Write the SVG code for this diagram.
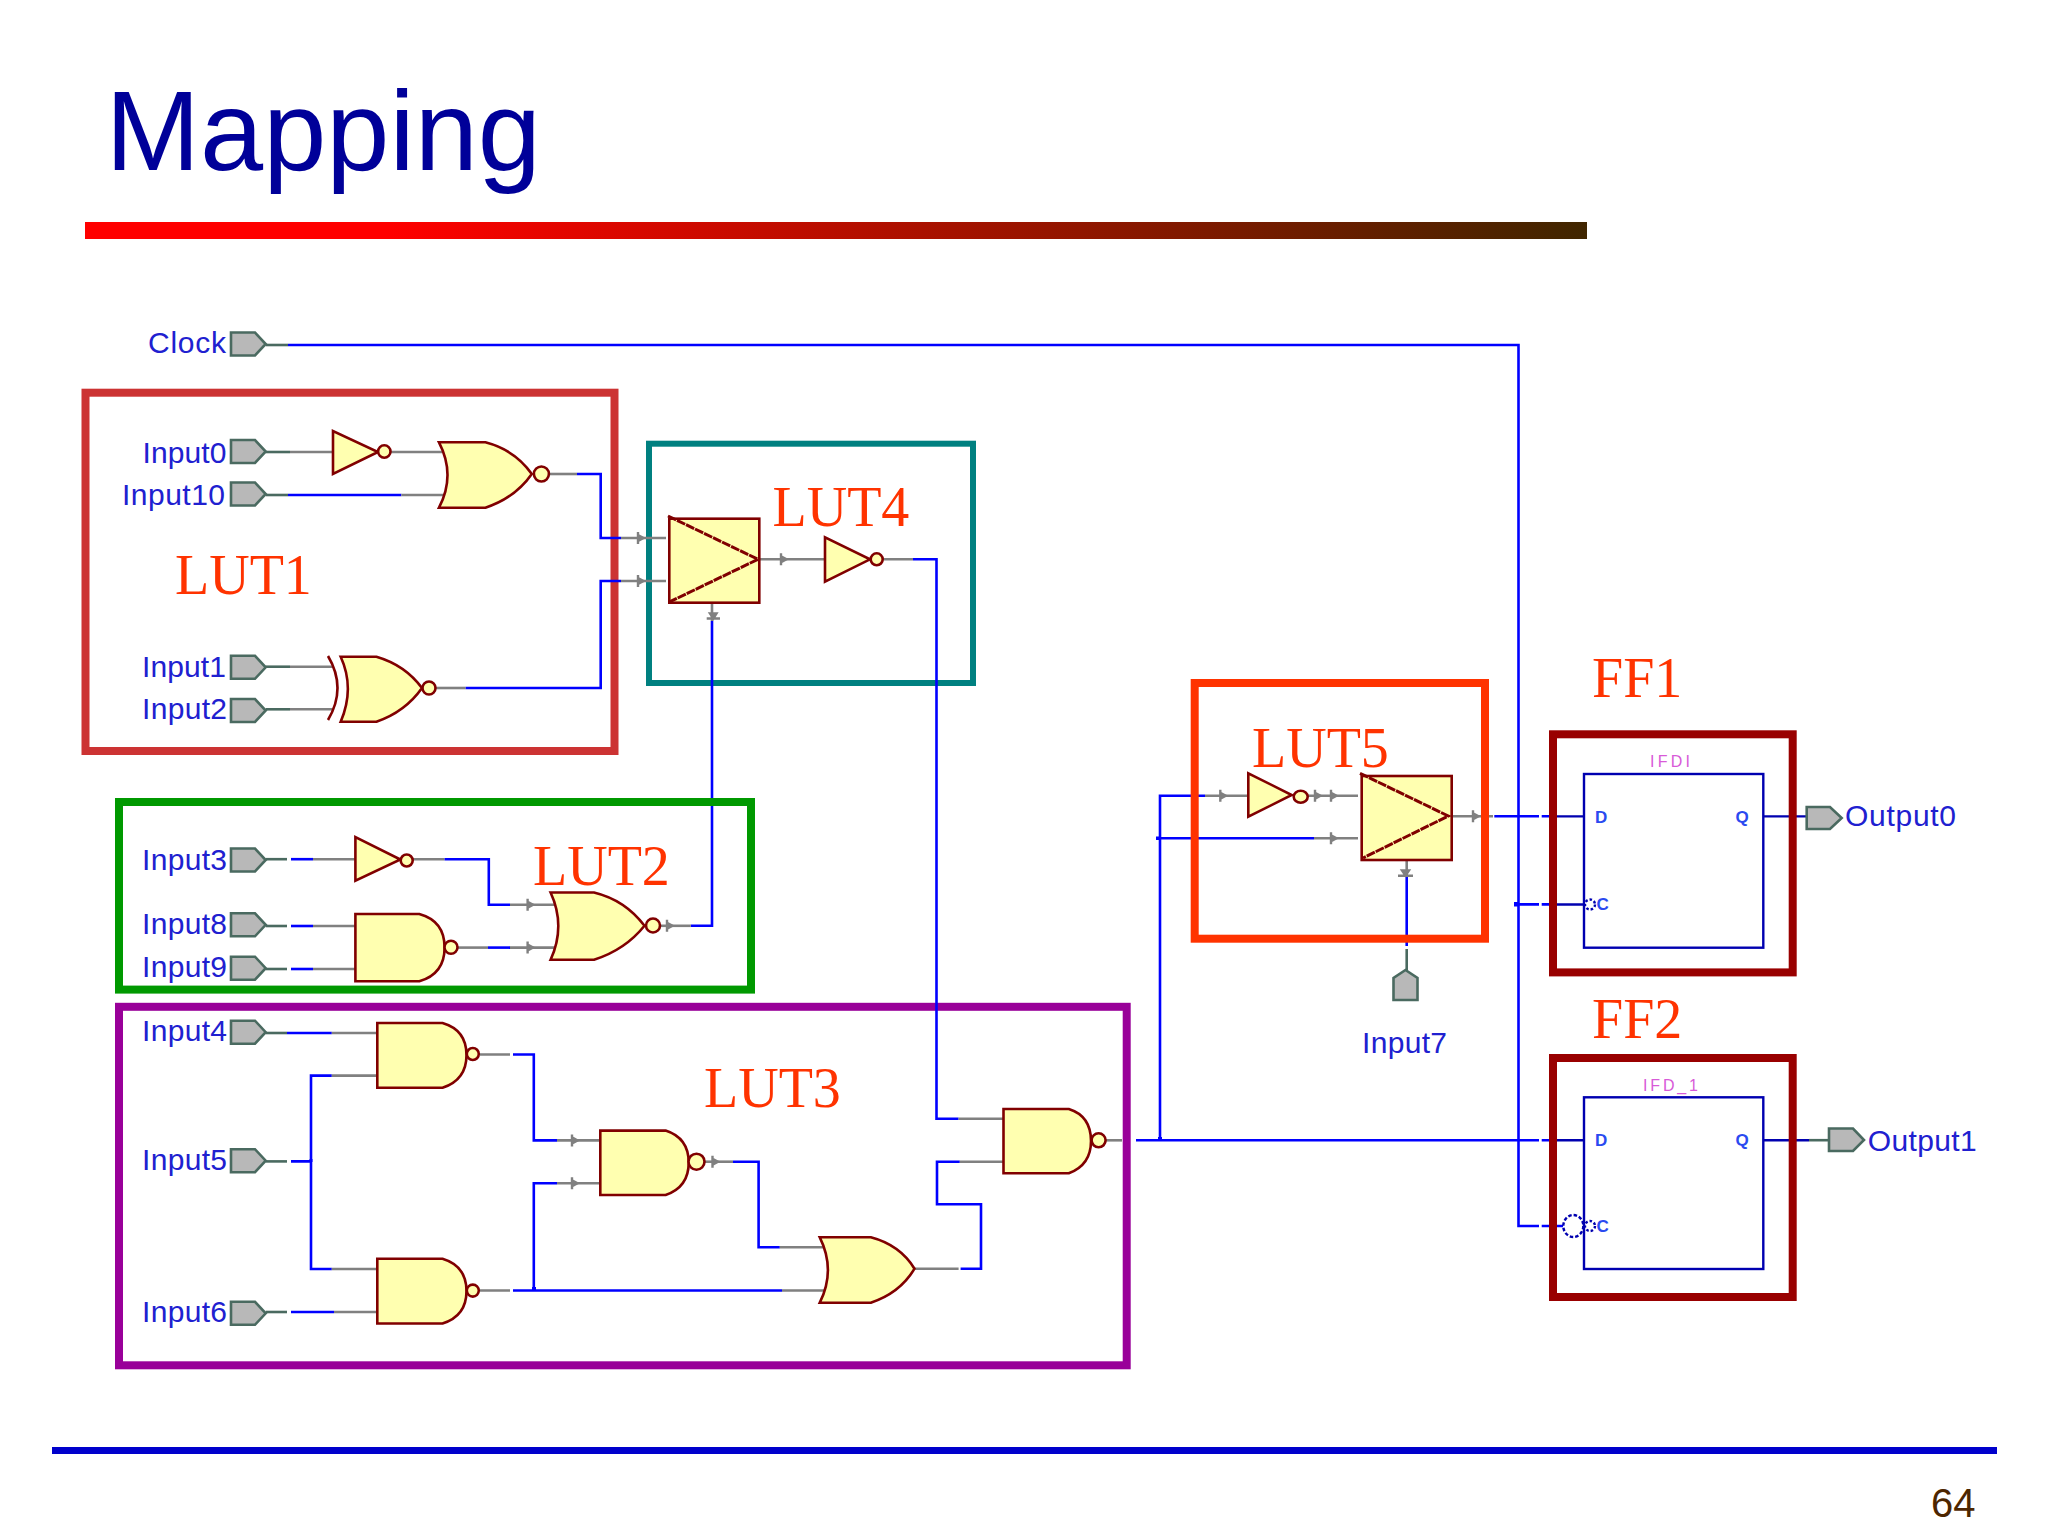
<svg xmlns="http://www.w3.org/2000/svg" xmlns:xlink="http://www.w3.org/1999/xlink" width="2048" height="1536" viewBox="0 0 2048 1536">
<defs>
<linearGradient id="barGrad" x1="0" x2="1" y1="0" y2="0"><stop offset="0" stop-color="#ff0000"/><stop offset="0.2" stop-color="#ff0000"/><stop offset="1" stop-color="#402600"/></linearGradient>
<path id="port" d="M231 -11.5H255L265.7 0L255 11.5H231Z" class="port"/>
<path id="tick" d="M-2 -6V6M-2 -3L3.5 0L-2 3Z" class="tick"/>
<style>
.b{fill:none;stroke:#0000ff;stroke-width:2.6}
.g{fill:none;stroke:#808080;stroke-width:2.6}
.d{fill:none;stroke:#4a6a60;stroke-width:2.6}
.f{fill:none;stroke:#0000b0;stroke-width:2.4}
.gate{fill:#ffffb0;stroke:#800000;stroke-width:2.6}
.gx{fill:none;stroke:#800000;stroke-width:2.6}
.tri{fill:none;stroke:#800000;stroke-width:3;stroke-dasharray:9 1}
.port{fill:#b8b8b8;stroke:#4a6a60;stroke-width:2.6}
.tick{fill:#808080;stroke:#808080;stroke-width:2.4}
.box{fill:none;stroke-width:8}
.lab{font-family:"Liberation Sans",Arial,sans-serif;font-size:30px;fill:#2020d0}
.lut{font-family:"Liberation Serif","Times New Roman",serif;font-size:56px;fill:#ff3300}
.pin{font-family:"Liberation Sans",Arial,sans-serif;font-size:17px;font-weight:bold;fill:#2a4af0}
.inst{font-family:"Liberation Sans",Arial,sans-serif;font-size:16px;fill:#d85ad8}
</style>
</defs>
<rect width="2048" height="1536" fill="#ffffff"/>

<g id="slide">
<text x="105.5" y="170" font-family="'Liberation Sans',Arial,sans-serif" font-size="113.5" fill="#000099">Mapping</text>
<rect x="85" y="222" width="1502" height="17" fill="url(#barGrad)"/>
<rect x="52" y="1447" width="1945" height="7" fill="#0000cc"/>
<text x="1931" y="1517" font-family="'Liberation Sans',Arial,sans-serif" font-size="40" fill="#4d2600">64</text>
</g>

<g id="regions-under">
<rect id="LUT1-box" class="box" x="85.5" y="392.7" width="529" height="358.3" stroke="#cc3333"/>
<rect id="LUT4-box" x="649" y="443.7" width="324" height="239.3" fill="none" stroke="#008080" stroke-width="6"/>
<rect id="LUT3-box" class="box" x="119" y="1006.8" width="1007.7" height="358.5" stroke="#990099"/>
</g>

<g id="connectors">
<path class="d" d="M265.7 345H288"/><path class="b" d="M288 345H1518.5V1226H1539M1541.7 1226H1563"/>
<path class="d" d="M265.7 452H290"/><path class="g" d="M290 452H333M390.7 452H442"/>
<path class="d" d="M265.7 495H288"/><path class="b" d="M288 495H401.4"/><path class="g" d="M401.4 495H444"/>
<path class="d" d="M265.7 666.7H290"/><path class="g" d="M290 666.7H332"/>
<path class="d" d="M265.7 709.3H290"/><path class="g" d="M290 709.3H332"/>
<path class="g" d="M549 474H577"/><path class="b" d="M577 474H600.7V538H621"/><path class="g" d="M621 538H666"/>
<path class="g" d="M435.5 688H465.7"/><path class="b" d="M465.7 688H600.7V581H621"/><path class="g" d="M621 581H666"/>
<path class="g" d="M759.3 559.3H825M882.7 559.3H913"/>
<path class="b" d="M913 559.3H936.5V1118.7H958.6"/><path class="g" d="M958.6 1118.7H1003.5"/>
<path class="g" d="M712 602.7V621"/>
<path class="b" d="M712 621V925.8H690.8"/><path class="g" d="M690.8 925.8H660"/>
<path class="d" d="M265.7 859.2H287"/><path class="b" d="M291 859.2H313"/><path class="g" d="M313 859.2H355.4M413 859.2H444.6"/>
<path class="b" d="M444.6 859.2H488.8V904.7H510"/><path class="g" d="M510 904.7H556"/>
<path class="d" d="M265.7 926H287"/><path class="b" d="M291 926H313"/><path class="g" d="M313 926H355.4"/>
<path class="d" d="M265.7 969H287"/><path class="b" d="M291 969H313"/><path class="g" d="M313 969H355.4"/>
<path class="g" d="M457.5 947.6H488"/><path class="b" d="M488 947.6H510"/><path class="g" d="M510 947.6H554"/>
<path class="d" d="M265.7 1033H287"/><path class="b" d="M287 1033H331.8"/><path class="g" d="M331.8 1033H377.3"/>
<path class="d" d="M265.7 1161.4H287"/><path class="b" d="M291 1161.4H311M331.8 1075.6H311V1269H331.8"/><path class="g" d="M331.8 1075.6H377.3M331.8 1269H377.3"/>
<path class="d" d="M265.7 1312H287"/><path class="b" d="M291 1312H334"/><path class="g" d="M334 1312H377.3"/>
<path class="g" d="M480 1054.5H510M480 1290.5H510"/>
<path class="b" d="M513 1054.5H533.8V1140.4H557"/><path class="g" d="M557 1140.4H600.3"/>
<path class="b" d="M513 1290.5H782M533.8 1290.5V1183.3H557"/><path class="g" d="M557 1183.3H600.3M782 1290.5H824"/>
<path class="g" d="M705 1161.7H733"/><path class="b" d="M733 1161.7H758.6V1247.3H779.8"/><path class="g" d="M779.8 1247.3H824"/>
<path class="g" d="M914.5 1268.7H958.6"/><path class="b" d="M960.6 1268.7H981V1204.3H937V1161.7H959.8"/><path class="g" d="M959.8 1161.7H1003.5"/>
<path class="g" d="M1106 1140.3H1122"/><path class="b" d="M1136 1140.3H1539M1541.7 1140.3H1550"/>
<path class="b" d="M1157 838.3H1314M1205 795.7H1160V1140.3"/>
<path class="g" d="M1205 795.7H1248.3M1308 795.7H1358M1314 838.3H1358"/>
<path class="g" d="M1451.7 816.3H1493"/><path class="b" d="M1494.3 816.3H1539M1541.7 816.3H1550"/>
<path class="b" d="M1515 904.4H1539M1541.7 904.4H1550"/>
<path class="g" d="M1406.7 860V877"/><path class="b" d="M1406.7 877V946"/><path class="d" d="M1406.7 949V970"/>
<path class="f" d="M1550 816.4H1584M1550 904.5H1584M1550 1140.2H1584M1763.3 816.4H1806.7M1763.3 1140.2H1809"/>
<path class="d" d="M1809 1140.2H1829"/>
<rect x="309.5" y="1159" width="3" height="3" fill="#0000ff"/>
<rect x="532" y="1287" width="4" height="4" fill="#0000ff"/>
<rect x="1158" y="1137" width="4" height="4" fill="#0000ff"/>
<rect x="1156" y="836.5" width="3.5" height="3.5" fill="#0000ff"/>
<rect x="1514" y="902" width="4.5" height="4.5" fill="#0000ff"/>
<use href="#tick" x="640" y="538"/><use href="#tick" x="640" y="581"/>
<use href="#tick" x="783" y="559.3"/>
<path class="tick" d="M706.7 618.5H720M713.4 618.5L710 613.5H716.5Z"/>
<use href="#tick" x="529.6" y="904.7"/><use href="#tick" x="529.6" y="947.6"/>
<use href="#tick" x="669" y="925.8"/>
<use href="#tick" x="574" y="1140.4"/><use href="#tick" x="574" y="1183.3"/>
<use href="#tick" x="714.5" y="1161.7"/>
<use href="#tick" x="1222.3" y="795.7"/><use href="#tick" x="1317" y="795.7"/><use href="#tick" x="1333" y="795.7"/><use href="#tick" x="1333" y="838.3"/>
<use href="#tick" x="1475" y="816.3"/>
<path class="tick" d="M1398 875.7H1413M1405.5 875.7L1402 870.5H1409Z"/>
</g>

<g id="Clock"><use href="#port" y="344"/><text class="lab" x="148" y="353" textLength="78" lengthAdjust="spacing">Clock</text></g>
<g id="Input0"><use href="#port" y="451.5"/><text class="lab" x="142.5" y="462.7" textLength="84" lengthAdjust="spacing">Input0</text></g>
<g id="Input10"><use href="#port" y="494"/><text class="lab" x="122" y="505.3" textLength="103" lengthAdjust="spacing">Input10</text></g>
<g id="Input1"><use href="#port" y="667.3"/><text class="lab" x="142" y="677" textLength="84" lengthAdjust="spacing">Input1</text></g>
<g id="Input2"><use href="#port" y="710.5"/><text class="lab" x="142" y="719" textLength="85" lengthAdjust="spacing">Input2</text></g>
<g id="Input3"><use href="#port" y="860"/><text class="lab" x="142" y="869.6" textLength="85" lengthAdjust="spacing">Input3</text></g>
<g id="Input8"><use href="#port" y="924.8"/><text class="lab" x="142" y="934" textLength="85" lengthAdjust="spacing">Input8</text></g>
<g id="Input9"><use href="#port" y="968.2"/><text class="lab" x="142" y="976.8" textLength="85" lengthAdjust="spacing">Input9</text></g>
<g id="Input4"><use href="#port" y="1032.2"/><text class="lab" x="142" y="1041" textLength="85" lengthAdjust="spacing">Input4</text></g>
<g id="Input5"><use href="#port" y="1160.7"/><text class="lab" x="142" y="1170" textLength="85" lengthAdjust="spacing">Input5</text></g>
<g id="Input6"><use href="#port" y="1313.3"/><text class="lab" x="142" y="1321.6" textLength="85" lengthAdjust="spacing">Input6</text></g>
<g id="Input7"><path class="port" d="M1393.5 1000V978L1405.5 970L1417.5 978V1000Z"/><text class="lab" x="1362" y="1052.7" textLength="85" lengthAdjust="spacing">Input7</text></g>
<g id="Output0"><path class="port" d="M1806.7 807H1830L1841.7 818L1830 829H1806.7Z"/><text class="lab" x="1845" y="826.4" textLength="111" lengthAdjust="spacing">Output0</text></g>
<g id="Output1"><path class="port" d="M1829 1128.5H1853L1864 1140L1853 1151H1829Z"/><text class="lab" x="1867.7" y="1150.5" textLength="109" lengthAdjust="spacing">Output1</text></g>

<g id="INV1"><path class="gate" d="M333 431V474L378 452Z"/><circle class="gate" cx="384.3" cy="451.5" r="6.2"/></g>
<g id="NOR1"><path class="gate" d="M439 442.3H485.4Q515 450 531.8 474Q515 498 485.4 507.7H439Q456 475 439 442.3Z"/><circle class="gate" cx="541.4" cy="474" r="7.5"/></g>
<g id="XNOR1"><path class="gx" d="M328 656Q347 688 328 720"/><path class="gate" d="M340.7 656.7H376.4Q405 665 422 688Q405 712 376.4 721.7H340.7Q355 688 340.7 656.7Z"/><circle class="gate" cx="429" cy="688" r="6.5"/></g>
<g id="BUF4"><rect class="gate" x="669.3" y="518.7" width="90" height="84"/><path class="tri" d="M668 516L758 559.3L670 601.7"/></g>
<g id="INV4"><path class="gate" d="M825 537.3V581.7L870 559.3Z"/><circle class="gate" cx="876.7" cy="559.3" r="6"/></g>
<g id="INV3"><path class="gate" d="M355.4 837V880.6L400.4 859.5Z"/><circle class="gate" cx="406.7" cy="860.5" r="6"/></g>
<g id="NOR3"><path class="gate" d="M550.6 892.5H594Q625 900 644.5 925.8Q625 950 594 959.8H550.6Q566 926 550.6 892.5Z"/><circle class="gate" cx="653" cy="925.5" r="7"/></g>
<g id="AND89"><path class="gate" d="M355.4 914H419.3Q444.6 921 444.6 947.5Q444.6 974 419.3 981.3H355.4Z"/><circle class="gate" cx="451" cy="947.3" r="6.5"/></g>
<g id="NANDA"><path class="gate" d="M377.3 1023H442.5Q466.5 1030 466.5 1055Q466.5 1080 442.5 1087.8H377.3Z"/><circle class="gate" cx="472.8" cy="1054" r="6"/></g>
<g id="NANDB"><path class="gate" d="M377.3 1258.8H442.5Q466.5 1266 466.5 1291Q466.5 1316 442.5 1323.5H377.3Z"/><circle class="gate" cx="472.8" cy="1290.6" r="6"/></g>
<g id="NANDC"><path class="gate" d="M600.3 1130.6H665.6Q688.7 1138 688.7 1162.7Q688.7 1187 665.6 1195H600.3Z"/><circle class="gate" cx="696.5" cy="1161.7" r="8"/></g>
<g id="OR3"><path class="gate" d="M819.8 1237.3H870.8Q900 1245 914.5 1268.7Q900 1293 870.8 1302.7H819.8Q836 1270 819.8 1237.3Z"/></g>
<g id="NANDD"><path class="gate" d="M1003.5 1109H1068.8Q1091 1116 1091 1141Q1091 1165 1068.8 1173.3H1003.5Z"/><circle class="gate" cx="1098.6" cy="1140.3" r="7"/></g>
<g id="INV5"><path class="gate" d="M1248.3 773.3V816.7L1291.7 795Z"/><ellipse class="gate" cx="1300.7" cy="796.7" rx="7" ry="6"/></g>
<g id="BUF5"><rect class="gate" x="1361.7" y="776" width="90" height="84"/><path class="tri" d="M1360 773.3L1448.3 816L1363 858"/></g>

<g id="FF1-cell">
<rect class="f" x="1584" y="774" width="179.3" height="173.7"/>
<text class="pin" x="1595" y="822.5">D</text><text class="pin" x="1735.5" y="822.5">Q</text><text class="pin" x="1596.5" y="910">C</text>
<circle class="f" cx="1590" cy="904.5" r="5" stroke-dasharray="2.5 2"/>
<text class="inst" x="1650" y="766.7" textLength="40" lengthAdjust="spacing">IFDI</text>
</g>
<g id="FF2-cell">
<rect class="f" x="1584" y="1097.3" width="179.3" height="171.7"/>
<text class="pin" x="1595" y="1146">D</text><text class="pin" x="1735.5" y="1146">Q</text><text class="pin" x="1596.5" y="1232">C</text>
<circle class="f" cx="1590" cy="1226" r="5" stroke-dasharray="2.5 2"/>
<ellipse class="f" cx="1573.3" cy="1226" rx="10" ry="11" stroke-dasharray="3.5 2"/>
<text class="inst" x="1643" y="1091" textLength="55" lengthAdjust="spacing">IFD_1</text>
</g>

<g id="regions-over">
<rect id="LUT2-box" class="box" x="119" y="802" width="632" height="187.6" stroke="#009900"/>
<rect id="LUT5-box" class="box" x="1194.7" y="683" width="290.3" height="255.7" stroke="#ff3300"/>
<rect id="FF1-box" class="box" x="1553" y="734.3" width="239.7" height="238.1" stroke="#990000"/>
<rect id="FF2-box" class="box" x="1553" y="1058" width="239.7" height="239" stroke="#990000"/>
</g>

<g id="labels">
<text class="lut" x="175" y="594">LUT1</text>
<text class="lut" x="533" y="885">LUT2</text>
<text class="lut" x="704" y="1107">LUT3</text>
<text class="lut" x="772.5" y="526">LUT4</text>
<text class="lut" x="1252" y="767">LUT5</text>
<text class="lut" x="1592" y="697">FF1</text>
<text class="lut" x="1592" y="1038">FF2</text>
</g>
</svg>
